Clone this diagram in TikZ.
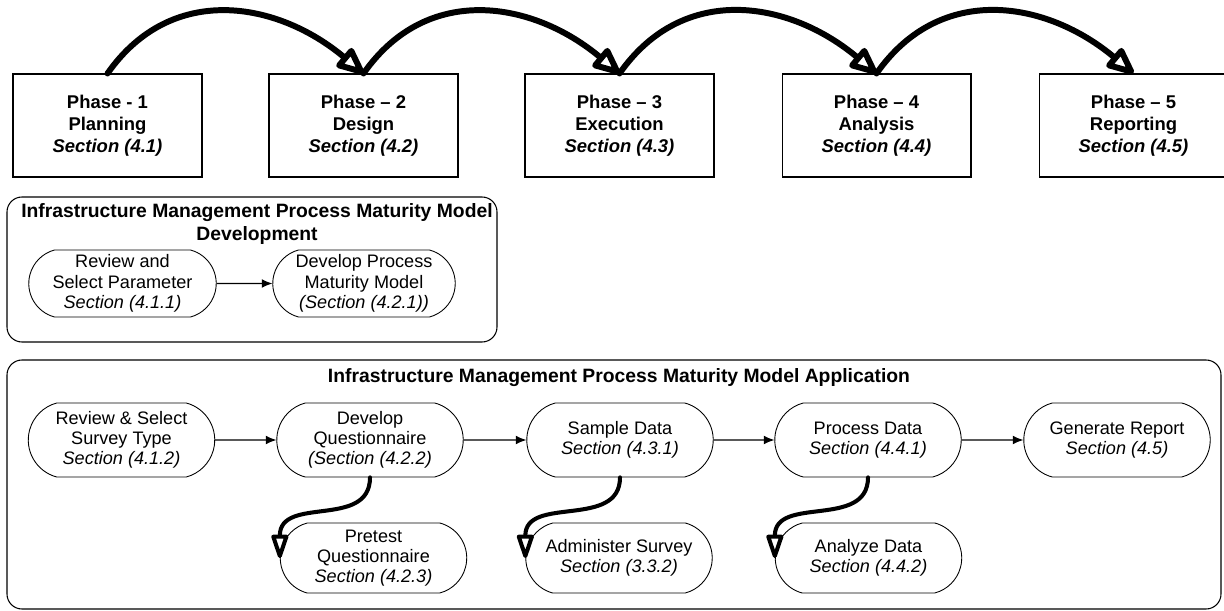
\documentclass[tikz,border=0pt]{standalone}
\usepackage{fontspec}
\setmainfont{Liberation Sans}
\usetikzlibrary{arrows.meta,shapes.misc}

\begin{document}
\begin{tikzpicture}[x=0.02cm,y=-0.02cm,
	phase/.style={draw,line width=0.6pt,minimum width=3.78cm,minimum height=2.06cm,align=center,font=\fontsize{10.5}{12.5}\selectfont\bfseries},
	pill/.style={draw,line width=0.5pt,rounded rectangle,rounded rectangle arc length=150,minimum width=3.8cm,minimum height=1.48cm,align=center,inner sep=1pt,font=\fontsize{10.3}{11.5}\selectfont},
	group/.style={draw,line width=0.6pt,rounded corners=0.3cm},
	title/.style={align=center,font=\fontsize{11}{13}\selectfont\bfseries},
	jump/.style={line width=3.4pt,line cap=round,-{Triangle[open,length=18pt,width=15pt,round]}},
	drop/.style={line width=2.3pt,line cap=round,-{Triangle[open,length=16pt,width=10pt,round]}},
	flow/.style={line width=0.6pt,-{Latex[length=6pt,width=5pt]}}]
	\useasboundingbox (0,0) rectangle (1224,611);

	% phases
	\node[phase] (p1) at (107.5,125.5) {Phase - 1\\Planning\\\textit{Section (4.1)}};
	\node[phase] (p2) at (363.5,125.5) {Phase -- 2\\Design\\\textit{Section (4.2)}};
	\node[phase] (p3) at (619.5,125.5) {Phase -- 3\\Execution\\\textit{Section (4.3)}};
	\node[phase] (p4) at (876.5,125.5) {Phase -- 4\\Analysis\\\textit{Section (4.4)}};
	\node[phase] (p5) at (1133.5,125.5) {Phase -- 5\\Reporting\\\textit{Section (4.5)}};
	\foreach \a/\b in {p1/p2,p2/p3,p3/p4,p4/p5}
		\draw[jump] (\a.north) to[out=55,in=140,looseness=1.12] (\b.north);

	% model development
	\draw[group] (7,197) rectangle (497,342);
	\node[title] (devtitle) at (257,224) {Infrastructure Management Process Maturity Model\\Development};
	\node[pill,minimum width=3.82cm,minimum height=1.34cm] (rsp) at (122.5,283.5) {Review and\\Select Parameter\\\textit{Section (4.1.1)}};
	\node[pill,minimum width=3.72cm,minimum height=1.34cm] (dpm) at (364,283.5) {Develop Process\\Maturity Model\\\textit{(Section (4.2.1))}};
	\draw[flow] (rsp) -- (dpm);

	% model application
	\draw[group] (7,360) rectangle (1221,609);
	\node[title] (apptitle) at (619,378) {Infrastructure Management Process Maturity Model Application};
	\node[pill] (rs) at (121.5,440) {Review \& Select\\Survey Type\\\textit{Section (4.1.2)}};
	\node[pill] (dq) at (370,440) {Develop\\Questionnaire\\\textit{(Section (4.2.2)}};
	\node[pill] (sd) at (620,440) {Sample Data\\\textit{Section (4.3.1)}};
	\node[pill] (pd) at (868,440) {Process Data\\\textit{Section (4.4.1)}};
	\node[pill] (gr) at (1117,440) {Generate Report\\\textit{Section (4.5)}};
	\node[pill,minimum height=1.4cm] (pq) at (373.5,558) {Pretest\\Questionnaire\\\textit{Section (4.2.3)}};
	\node[pill,minimum height=1.4cm] (as) at (619,558) {Administer Survey\\\textit{Section (3.3.2)}};
	\node[pill,minimum height=1.4cm] (ad) at (868.5,558) {Analyze Data\\\textit{Section (4.4.2)}};
	\foreach \a/\b in {rs/dq,dq/sd,sd/pd,pd/gr}
		\draw[flow] (\a) -- (\b);
	\foreach \a/\b in {dq/pq,sd/as,pd/ad}
		\draw[drop] (\a.south) .. controls +(0,52) and +(0,-63) .. (\b.west);
\end{tikzpicture}
\end{document}
